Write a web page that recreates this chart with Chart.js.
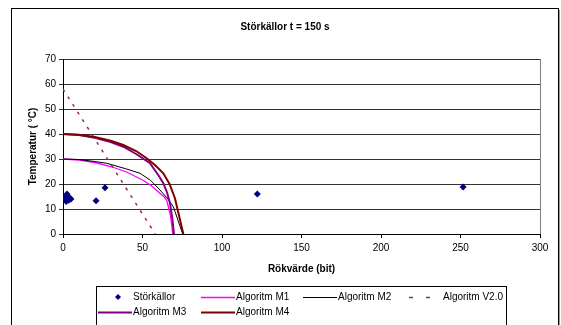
<!DOCTYPE html>
<html>
<head>
<meta charset="utf-8">
<script src="https://cdn.jsdelivr.net/npm/chart.js@4"></script>
<style>
  html, body { margin: 0; padding: 0; background: #fff; }
  #wrap { width: 561px; height: 325px; }
</style>
</head>
<body>
<div id="wrap"><canvas id="chart" width="561" height="325"></canvas></div>
<script>
// Données
const titleText = 'Störkällor t = 150 s';
const xTitle = 'Rökvärde (bit)';
const yTitle = 'Temperatur ( °C)';

const seriesNames = ['Störkällor', 'Algoritm M1', 'Algoritm M2', 'Algoritm V2.0', 'Algoritm M3', 'Algoritm M4'];

// Störkällor (points)
const srcX = [1.5, 2, 2, 2.5, 3, 3, 3.5, 4, 4.5, 5, 20.8, 26.4, 122.2, 251.6];
const srcY = [14, 13, 15, 16, 14, 15.2, 13.5, 14.5, 14, 14, 13.3, 18.5, 16, 18.8];

// Algoritm M1
const m1X = [0, 10, 20, 30, 40, 50, 55, 60, 64, 65.2, 67.3, 68.3, 69];
const m1Y = [30, 29.6, 28.6, 27, 24.8, 21.6, 19.6, 16.8, 14.6, 13.6, 8.3, 4, 0];

// Algoritm M2
const m2X = [0, 10, 20, 27.5, 40, 48.4, 55, 61, 66, 69.4, 75.3];
const m2Y = [30, 29.8, 29, 28.3, 26, 24.3, 21.5, 17.6, 14, 10.9, 0];

// Algoritm V2.0
const v2X = [0, 58];
const v2Y = [58, 0];

// Algoritm M3
const m3X = [0, 10, 20, 30, 37.9, 46, 54.7, 60, 63.1, 65.5, 67.3, 68.8, 69.8];
const m3Y = [40, 39.6, 38.5, 36.8, 34.9, 32, 28.3, 23.5, 20.3, 16.5, 12.3, 6, 0];

// Algoritm M4
const m4X = [0, 10, 20, 30, 37.9, 46, 52.6, 58, 63.1, 67, 70.4, 75.7];
const m4Y = [40, 39.7, 38.8, 37.3, 35.6, 33.2, 30.3, 27.5, 24.3, 20, 14.3, 0];

const xTicks = [0, 50, 100, 150, 200, 250, 300];
const yTicks = [0, 10, 20, 30, 40, 50, 60, 70];

const FONT = "'Liberation Sans', Arial, sans-serif";
Chart.defaults.font.family = FONT;
Chart.defaults.font.size = 10;
Chart.defaults.color = '#000';

function pts(xs, ys) {
    return xs.map((x, i) => ({ x: x, y: ys[i] }));
}

function lineSet(label, xs, ys, color, width, dash) {
    return {
        label: label,
        data: pts(xs, ys),
        showLine: true,
        borderColor: color,
        backgroundColor: color,
        borderWidth: width,
        borderDash: dash || [],
        pointRadius: 0,
        pointHoverRadius: 0,
        tension: 0
    };
}

const datasets = [
    {
        label: seriesNames[0],
        data: pts(srcX, srcY),
        pointStyle: 'rectRot',
        pointRadius: 3.5,
        backgroundColor: '#000080',
        borderColor: '#000080',
        borderWidth: 0,
        showLine: false,
        order: 0
    },
    lineSet(seriesNames[1], m1X, m1Y, '#FF00FF', 1.3),
    lineSet(seriesNames[2], m2X, m2Y, '#000000', 1),
    lineSet(seriesNames[3], v2X, v2Y, '#993333', 1.5, [3, 6]),
    lineSet(seriesNames[4], m3X, m3Y, '#800080', 2),
    lineSet(seriesNames[5], m4X, m4Y, '#800000', 2)
];
datasets.forEach((d, i) => { if (i > 0) d.order = 7 - i; });

// Cadre, titre et bordure du graphique
const framePlugin = {
    id: 'frame',
    beforeDraw(chart) {
        const ctx = chart.ctx;
        ctx.save();
        ctx.fillStyle = '#fff';
        ctx.fillRect(0, 0, chart.width, chart.height);
        ctx.strokeStyle = '#000';
        ctx.lineWidth = 1;
        ctx.strokeRect(11.5, 8.5, 547, 340);
        ctx.strokeStyle = '#999';
        ctx.beginPath();
        ctx.moveTo(559.5, 10);
        ctx.lineTo(559.5, 330);
        ctx.stroke();
        ctx.fillStyle = '#000';
        ctx.font = 'bold 10px ' + FONT;
        ctx.textAlign = 'center';
        ctx.textBaseline = 'middle';
        ctx.fillText(titleText, 285, 27);
        ctx.restore();
    },
    beforeDatasetsDraw(chart) {
        const a = chart.chartArea;
        const ctx = chart.ctx;
        ctx.save();
        ctx.strokeStyle = '#808080';
        ctx.lineWidth = 1;
        ctx.beginPath();
        ctx.moveTo(Math.round(a.right) + 0.5, a.top);
        ctx.lineTo(Math.round(a.right) + 0.5, a.bottom);
        ctx.stroke();
        ctx.restore();
    }
};

// Légende façon Excel (2 lignes)
const legendPlugin = {
    id: 'excelLegend',
    afterDraw(chart) {
        const ctx = chart.ctx;
        const cols = [98, 201, 303, 406];
        const rows = [297, 312];
        ctx.save();
        ctx.strokeStyle = '#000';
        ctx.lineWidth = 1;
        ctx.strokeRect(96.5, 286.5, 410, 60);
        ctx.font = '10px ' + FONT;
        ctx.textBaseline = 'middle';
        ctx.textAlign = 'left';
        chart.data.datasets.forEach((ds, i) => {
            const cx = cols[i % 4];
            const cy = rows[Math.floor(i / 4)];
            if (!ds.showLine) {
                ctx.fillStyle = ds.backgroundColor;
                ctx.beginPath();
                ctx.moveTo(118, cy - 3);
                ctx.lineTo(121, cy);
                ctx.lineTo(118, cy + 3);
                ctx.lineTo(115, cy);
                ctx.closePath();
                ctx.fill();
            } else {
                ctx.strokeStyle = ds.borderColor;
                ctx.lineWidth = ds.borderWidth;
                ctx.setLineDash(ds.borderDash.length ? [4, 13] : []);
                ctx.beginPath();
                ctx.moveTo(cx + (ds.borderDash.length ? 3 : 0), cy + 0.5);
                ctx.lineTo(cx + 34, cy + 0.5);
                ctx.stroke();
                ctx.setLineDash([]);
            }
            ctx.fillStyle = '#000';
            ctx.fillText(ds.label, cx + (ds.borderDash && ds.borderDash.length ? 37 : 35), cy);
        });
        ctx.restore();
    }
};

new Chart(document.getElementById('chart'), {
    type: 'scatter',
    data: { datasets: datasets },
    options: {
        responsive: false,
        animation: false,
        events: [],
        layout: { padding: { left: 11, right: 21, top: 59, bottom: 0 } },
        plugins: {
            legend: { display: false },
            title: { display: false },
            tooltip: { enabled: false }
        },
        scales: {
            x: {
                type: 'linear',
                min: xTicks[0],
                max: xTicks[xTicks.length - 1],
                afterBuildTicks: s => { s.ticks = xTicks.map(v => ({ value: v })); },
                afterFit: s => { s.height = 91; },
                ticks: { color: '#000', padding: 4, maxRotation: 0 },
                grid: { drawOnChartArea: false, color: '#000', tickLength: 4 },
                border: { color: '#000' },
                title: {
                    display: true,
                    text: xTitle,
                    color: '#000',
                    font: { size: 10, weight: 'bold' },
                    padding: { top: 0, bottom: 50 }
                }
            },
            y: {
                type: 'linear',
                min: yTicks[0],
                max: yTicks[yTicks.length - 1],
                afterBuildTicks: s => { s.ticks = yTicks.map(v => ({ value: v })); },
                afterFit: s => { s.width = 52; },
                ticks: { color: '#000', padding: 3 },
                grid: { color: '#333', tickLength: 4 },
                border: { color: '#000' },
                title: {
                    display: true,
                    text: yTitle,
                    color: '#000',
                    font: { size: 10, weight: 'bold' },
                    padding: { top: 16, bottom: 0 }
                }
            }
        }
    },
    plugins: [framePlugin, legendPlugin]
});
</script>
</body>
</html>
